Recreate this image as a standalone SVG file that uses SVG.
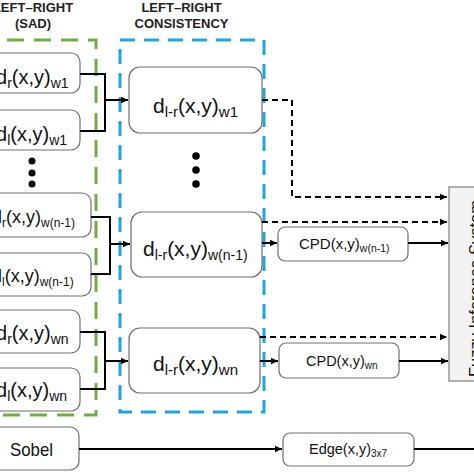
<svg xmlns="http://www.w3.org/2000/svg" width="474" height="474" viewBox="0 0 474 474">
<defs>
<marker id="ah" markerUnits="userSpaceOnUse" markerWidth="8" markerHeight="8" refX="7" refY="4" orient="auto">
<path d="M0,0.8 L7,4 L0,7.2 Z" fill="#000"/>
</marker>
<style>
.box{fill:#fff;stroke:#6e6e6e;stroke-width:1.2}
.t{font-family:"Liberation Sans",Arial,sans-serif;fill:#111}
.ttl{font-family:"Liberation Sans",Arial,sans-serif;font-weight:bold;font-size:13px;fill:#222;text-anchor:middle}
.c{fill:none;stroke:#000;stroke-width:2}
.d{fill:none;stroke:#000;stroke-width:2;stroke-dasharray:6 4}
.dot{fill:#000}
</style>
</defs>
<rect width="474" height="474" fill="#fff"/>

<g id="sad-frame">
<rect x="-20" y="40" width="116" height="375" fill="none" stroke="#70AD47" stroke-width="3" stroke-dasharray="17 10"/>
<text class="ttl" x="33" y="12">LEFT–RIGHT</text>
<text class="ttl" x="33" y="28">(SAD)</text>
</g>
<g id="lrc-frame">
<rect x="120" y="40" width="144" height="372" fill="none" stroke="#1CA6DF" stroke-width="3" stroke-dasharray="15 9"/>
<text class="ttl" x="181.5" y="12">LEFT–RIGHT</text>
<text class="ttl" x="181.5" y="27.5">CONSISTENCY</text>
</g>

<g id="dr-w1"><rect class="box" x="-20" y="53" width="100" height="40" rx="9"/>
<text class="t" x="-4" y="84" font-size="20">d<tspan font-size="14" dy="4">r</tspan><tspan dy="-4">(x,y)</tspan><tspan font-size="14" dy="4">w1</tspan></text></g>
<g id="dl-w1"><rect class="box" x="-20" y="110" width="100" height="40" rx="9"/>
<text class="t" x="-4" y="141" font-size="20">d<tspan font-size="14" dy="4">l</tspan><tspan dy="-4">(x,y)</tspan><tspan font-size="14" dy="4">w1</tspan></text></g>
<g id="dots-left"><circle class="dot" cx="32" cy="161" r="3.5"/><circle class="dot" cx="32" cy="173" r="3.5"/><circle class="dot" cx="32" cy="184" r="3.5"/></g>
<g id="dr-wn1"><rect class="box" x="-20" y="193" width="111" height="44" rx="9"/>
<text class="t" x="-8" y="223" font-size="18">d<tspan font-size="12" dy="4">r</tspan><tspan dy="-4">(x,y)</tspan><tspan font-size="12" dy="4">w(n-1)</tspan></text></g>
<g id="dl-wn1"><rect class="box" x="-20" y="253" width="111" height="43" rx="9"/>
<text class="t" x="-8" y="282" font-size="18">d<tspan font-size="12" dy="4">l</tspan><tspan dy="-4">(x,y)</tspan><tspan font-size="12" dy="4">w(n-1)</tspan></text></g>
<g id="dr-wn"><rect class="box" x="-20" y="310" width="100" height="43" rx="9"/>
<text class="t" x="-4" y="340" font-size="20">d<tspan font-size="14" dy="4">r</tspan><tspan dy="-4">(x,y)</tspan><tspan font-size="14" dy="4">wn</tspan></text></g>
<g id="dl-wn"><rect class="box" x="-20" y="368" width="100" height="43" rx="9"/>
<text class="t" x="-4" y="397" font-size="20">d<tspan font-size="14" dy="4">l</tspan><tspan dy="-4">(x,y)</tspan><tspan font-size="14" dy="4">wn</tspan></text></g>
<g id="sobel"><rect class="box" x="-20" y="427" width="99" height="43" rx="9"/>
<text class="t" x="10" y="456" font-size="19" textLength="43" lengthAdjust="spacingAndGlyphs">Sobel</text></g>

<g id="dlr-w1"><rect class="box" x="129" y="67" width="133" height="66" rx="11"/>
<text class="t" x="153" y="113" font-size="21">d<tspan font-size="15" dy="4">l-r</tspan><tspan dy="-4">(x,y)</tspan><tspan font-size="15" dy="4">w1</tspan></text></g>
<g id="dots-mid"><circle class="dot" cx="196" cy="156" r="3.8"/><circle class="dot" cx="196" cy="170" r="3.8"/><circle class="dot" cx="196" cy="184" r="3.8"/></g>
<g id="dlr-wn1"><rect class="box" x="131" y="212" width="131" height="65" rx="11"/>
<text class="t" x="143" y="256" font-size="21">d<tspan font-size="14" dy="4">l-r</tspan><tspan dy="-4">(x,y)</tspan><tspan font-size="14" dy="4">w(n-1)</tspan></text></g>
<g id="dlr-wn"><rect class="box" x="129" y="328" width="131" height="65" rx="11"/>
<text class="t" x="153" y="371" font-size="21">d<tspan font-size="15" dy="4">l-r</tspan><tspan dy="-4">(x,y)</tspan><tspan font-size="15" dy="4">wn</tspan></text></g>

<g id="cpd-wn1"><rect class="box" x="278" y="227" width="130" height="34" rx="7"/>
<text class="t" x="299" y="249" font-size="15">CPD(x,y)<tspan font-size="10.5" dy="3">w(n-1)</tspan></text></g>
<g id="cpd-wn"><rect class="box" x="279" y="343" width="120" height="35" rx="7"/>
<text class="t" x="306" y="366" font-size="14.5">CPD(x,y)<tspan font-size="10" dy="3">wn</tspan></text></g>
<g id="edge"><rect class="box" x="283" y="433" width="131" height="33" rx="7"/>
<text class="t" x="309" y="454" font-size="14.5">Edge(x,y)<tspan font-size="10" dy="3">3x7</tspan></text></g>
<g id="fis"><rect x="449" y="187" width="40" height="194" fill="#F2F2F2" stroke="#7f7f7f" stroke-width="1.2"/>
<text class="t" transform="translate(481,288.5) rotate(-90)" x="-88.5" y="0" font-size="17" textLength="177" lengthAdjust="spacingAndGlyphs">Fuzzy Inference System</text></g>

<g id="connectors">
<path class="c" d="M80,74 H105 V131 H80"/>
<path class="c" d="M105,100 H128" marker-end="url(#ah)"/>
<path class="c" d="M91,217 H110 V274 H91"/>
<path class="c" d="M110,244 H130" marker-end="url(#ah)"/>
<path class="c" d="M80,332 H105 V389 H80"/>
<path class="c" d="M105,361 H128" marker-end="url(#ah)"/>
<path class="c" d="M262,243 H277" marker-end="url(#ah)"/>
<path class="c" d="M408,243 H448" marker-end="url(#ah)"/>
<path class="c" d="M260,361 H278" marker-end="url(#ah)"/>
<path class="c" d="M399,361 H448" marker-end="url(#ah)"/>
<path class="c" d="M79,449 H282" marker-end="url(#ah)"/>
<path class="c" d="M414,449 H474"/>
<path class="d" d="M262,100 H292 V197 H447" marker-end="url(#ah)"/>
<path class="d" d="M262,222 H447" marker-end="url(#ah)"/>
<path class="d" d="M260,337 H447" marker-end="url(#ah)"/>
</g>
</svg>
